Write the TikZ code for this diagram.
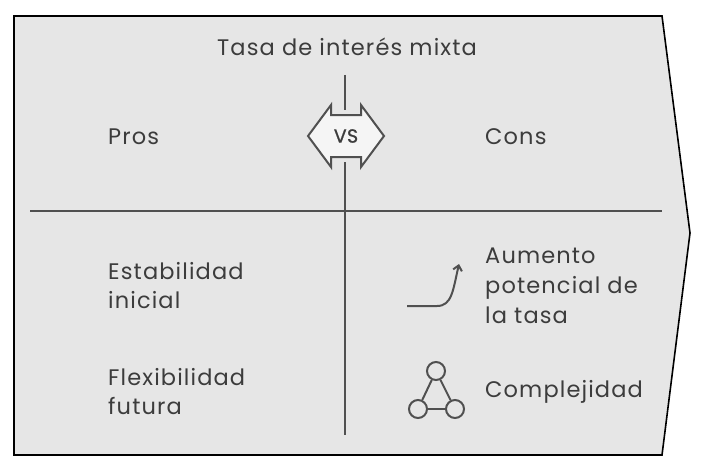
\documentclass[tikz,border=0pt]{standalone}
\usepackage{fontspec}
\setmainfont{Poppins}[LetterSpace=5]
\usetikzlibrary{arrows.meta}
\definecolor{panel}{HTML}{E6E6E6}
\definecolor{ink}{HTML}{3C3C3C}
\definecolor{rule}{HTML}{505050}
\tikzstyle{label} = [text=ink, font=\fontsize{22.5}{21}\selectfont, inner sep=0pt]
\tikzstyle{item} = [label, anchor=west, align=left]
\tikzstyle{divider} = [draw=rule, line width=2pt]
\tikzstyle{icon} = [draw=rule, line width=2pt]

\begin{document}
\begin{tikzpicture}[x=1pt, y=-1pt]
	\useasboundingbox (0,0) rectangle (708,468);
	\draw[fill=panel, line width=1.6pt, line join=miter] (14,16) -- (662,16) -- (690,233) -- (662,455) -- (14,455) -- cycle;

	\coordinate (hl) at (30,211);
	\coordinate (hr) at (662,211);
	\coordinate (vt) at (345,75);
	\coordinate (vb) at (345,435);
	\coordinate (va) at (345,110);
	\coordinate (vc) at (345,162);
	\draw[divider] (hl) -- (hr);
	\draw[divider] (vt) -- (va);
	\draw[divider] (vc) -- (vb);

	\draw[icon, fill=panel!40!white, line join=miter] (308,136) -- (331,105) -- (331,115) -- (361,115) -- (361,105) -- (384,136)
		-- (361,167) -- (361,157) -- (331,157) -- (331,167) -- cycle;
	\node[label, font=\fontsize{19}{20}\selectfont\addfontfeatures{LetterSpace=2, FakeBold=1}] (vs) at (346,136) {VS};

	\node[label] (title) at (347,47) {Tasa de interés mixta};
	\node[item] (pros) at (108,137) {Pros};
	\node[item] (cons) at (485,137) {Cons};
	\node[item, font=\fontsize{22.5}{29}\selectfont] (estab) at (108,286) {Estabilidad\\inicial};
	\node[item, font=\fontsize{22.5}{29}\selectfont] (flex) at (108,392) {Flexibilidad\\futura};
	\node[item, font=\fontsize{22.5}{30}\selectfont] (aum) at (485,286) {Aumento\\potencial de\\la tasa};
	\node[item] (compl) at (485,392) {Complejidad};

	\coordinate (up0) at (407,306);
	\coordinate (up1) at (459,264);
	\draw[icon, -{Straight Barb[length=5pt, width=9pt]}] (up0) -- (437,306) .. controls (452,306) and (453,290) .. (up1);

	\node[icon, circle, minimum size=18pt, inner sep=0pt] (ct) at (436,371) {};
	\node[icon, circle, minimum size=18pt, inner sep=0pt] (cl) at (418,409) {};
	\node[icon, circle, minimum size=18pt, inner sep=0pt] (cr) at (455,409) {};
	\draw[icon] (ct) -- (cl);
	\draw[icon] (ct) -- (cr);
	\draw[icon] (cl) -- (cr);
\end{tikzpicture}
\end{document}
